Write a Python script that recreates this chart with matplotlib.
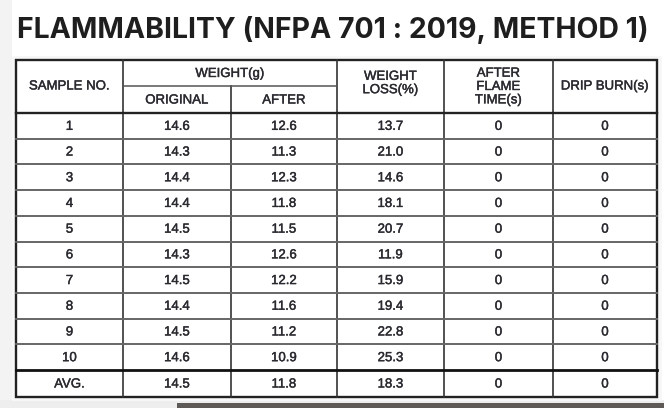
import matplotlib
matplotlib.use("Agg")
import matplotlib.pyplot as plt
import matplotlib.patheffects as pe
from matplotlib.patches import Rectangle

title = "FLAMMABILITY (NFPA 701 : 2019, METHOD 1)"
samples = ["1", "2", "3", "4", "5", "6", "7", "8", "9", "10"]
original = [14.6, 14.3, 14.4, 14.4, 14.5, 14.3, 14.5, 14.4, 14.5, 14.6]
after = [12.6, 11.3, 12.3, 11.8, 11.5, 12.6, 12.2, 11.6, 11.2, 10.9]
weight_loss = [13.7, 21.0, 14.6, 18.1, 20.7, 11.9, 15.9, 19.4, 22.8, 25.3]
after_flame = [0, 0, 0, 0, 0, 0, 0, 0, 0, 0]
drip_burn = [0, 0, 0, 0, 0, 0, 0, 0, 0, 0]
avg_row = ["AVG.", 14.5, 11.8, 18.3, 0, 0]

# layout (pixels)
W, H = 664, 408
col_edges = [16, 123, 231, 337, 444, 553, 657]
top, sub, head_bot, body_bot, bottom = 60, 86, 113, 370, 397

fig = plt.figure(figsize=(W / 100, H / 100), dpi=100)
ax = fig.add_axes([0, 0, 1, 1])
ax.set_xlim(0, W)
ax.set_ylim(H, 0)
ax.axis("off")

# background decorations
ax.add_patch(Rectangle((0, 0), 12, 400, color="#f3f3f3", lw=0))
ax.add_patch(Rectangle((0, 400), W, 8, color="#eeeeee", lw=0))
ax.add_patch(Rectangle((177, 403), W - 177, 5, color="#5e5a57", lw=0))
ax.add_patch(Rectangle((12, 56), 650, 345, facecolor="#f7f7f7", lw=0))
ax.add_patch(Rectangle((col_edges[0], top), col_edges[-1] - col_edges[0], bottom - top,
                       facecolor="white", edgecolor="#222222", lw=1.7, zorder=3))

# title, fitted to its width in the reference
t = ax.text(17, 30, title, fontsize=20, fontweight="bold", family="Inter",
            color="#1e1e1e", ha="left", va="center")
fig.canvas.draw()
wpx = t.get_window_extent().width
t.set_fontsize(20 * 633 / wpx)

tcol = "#2a2a30"
tfont = dict(family="Liberation Sans", fontsize=9.5, color=tcol, ha="center",
             va="center", zorder=5,
             path_effects=[pe.withStroke(linewidth=0.3, foreground=tcol)])

def cx(i):
    return (col_edges[i] + col_edges[i + 1]) / 2

# vertical lines
for i, x in enumerate(col_edges[1:-1], start=1):
    y0 = sub if i == 2 else top
    ax.plot([x, x], [y0, bottom], color="#333333", lw=1.2, zorder=4)
ax.plot([col_edges[1], col_edges[3]], [sub, sub], color="#555555", lw=1.1, zorder=4)

# header lines
ax.plot([col_edges[0], col_edges[-1]], [head_bot, head_bot], color="#222222", lw=1.7, zorder=4)
ax.plot([col_edges[0], col_edges[-1]], [body_bot, body_bot], color="#111111", lw=2.0, zorder=4)

n = len(samples)
row_h = (body_bot - head_bot) / n
for r in range(1, n):
    y = head_bot + r * row_h
    ax.plot([col_edges[0], col_edges[-1]], [y, y], color="#666666", lw=1.4, zorder=4)

# header text
ax.text(cx(0), (top + head_bot) / 2, "SAMPLE NO.", **tfont)
ax.text((col_edges[1] + col_edges[3]) / 2, (top + sub) / 2 + 1, "WEIGHT(g)", **tfont)
ax.text(cx(1), (sub + head_bot) / 2 + 1, "ORIGINAL", **tfont)
ax.text(cx(2), (sub + head_bot) / 2 + 1, "AFTER", **tfont)
ax.text(cx(3), (top + head_bot) / 2 - 3, "WEIGHT\nLOSS(%)", linespacing=1.15, **tfont)
ax.text(cx(4), (top + head_bot) / 2 + 0.5, "AFTER\nFLAME\nTIME(s)", linespacing=1.15, **tfont)
ax.text(cx(5), (top + head_bot) / 2, "DRIP BURN(s)", **tfont)

cols = [samples, original, after, weight_loss, after_flame, drip_burn]
for r in range(n):
    yc = head_bot + (r + 0.5) * row_h
    for c, data in enumerate(cols):
        v = data[r]
        s = f"{v:.1f}" if isinstance(v, float) else str(v)
        ax.text(cx(c), yc + 1, s, **tfont)

yc = (body_bot + bottom) / 2
for c, v in enumerate(avg_row):
    s = f"{v:.1f}" if isinstance(v, float) else str(v)
    ax.text(cx(c), yc + 1, s, **tfont)

fig.savefig("out.png", dpi=100)
